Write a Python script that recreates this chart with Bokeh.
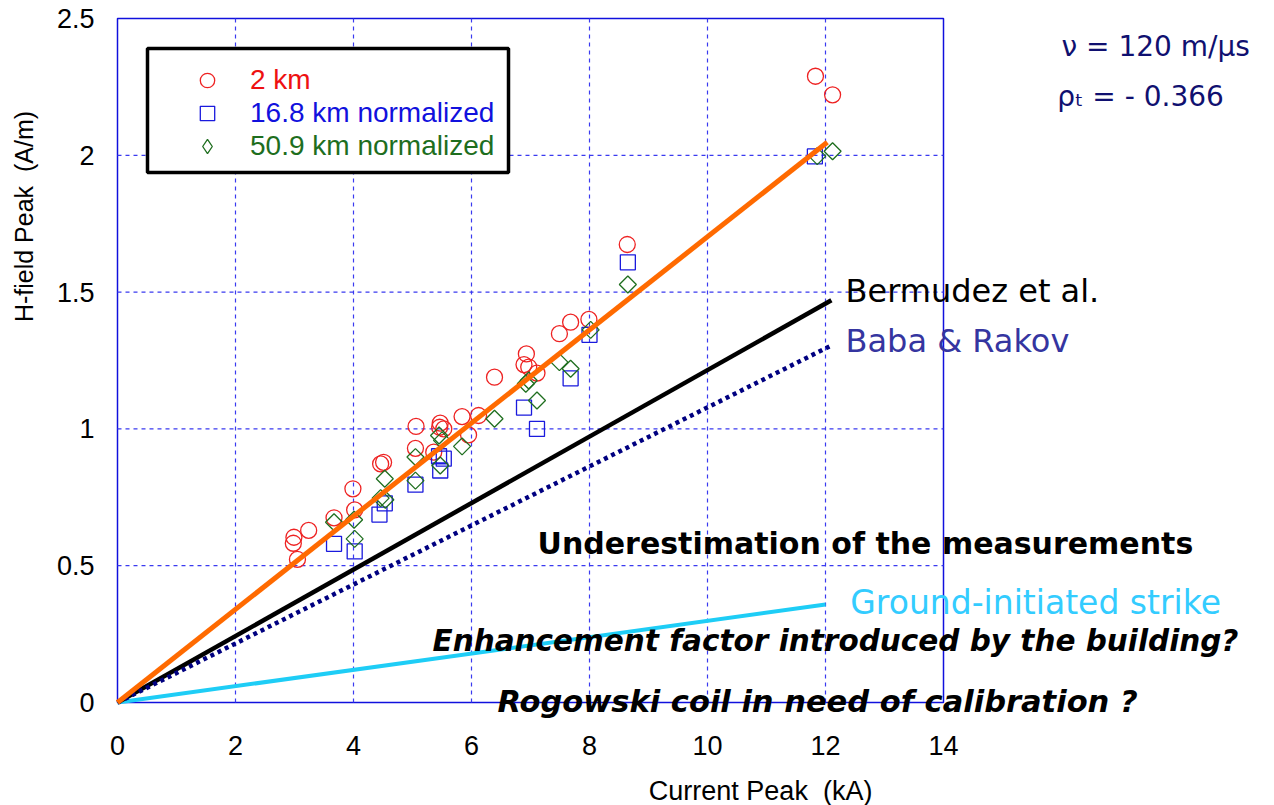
import numpy as np
from bokeh.plotting import figure
from bokeh.models import (Label, Legend, LegendItem, BoxAnnotation, FixedTicker,
                          Range1d, LinearAxis)
from bokeh.embed import file_html
from bokeh.resources import INLINE

# ---------------- data ----------------
red_x = [2.99, 2.98, 3.05, 3.24, 3.67, 3.99, 4.02, 4.46, 4.51, 5.06, 5.05, 5.47,
         5.46, 5.53, 5.36, 5.84, 6.12, 5.95, 6.39, 6.89, 6.93, 6.97, 7.11, 7.49,
         7.68, 7.99, 8.64, 11.83, 12.12]
red_y = [0.604, 0.582, 0.523, 0.629, 0.675, 0.781, 0.704, 0.872, 0.878, 1.009,
         0.929, 1.021, 1.006, 1.000, 0.915, 1.045, 1.049, 0.978, 1.189, 1.235,
         1.274, 1.226, 1.204, 1.348, 1.390, 1.400, 1.674, 2.289, 2.221]

blue_x = [3.67, 4.02, 4.44, 4.53, 5.05, 5.47, 5.45, 5.53, 6.89, 7.11, 7.68, 8.00,
          8.65, 11.82]
blue_y = [0.580, 0.552, 0.687, 0.728, 0.796, 0.848, 0.900, 0.891, 1.078, 1.000,
          1.185, 1.344, 1.609, 1.996]

green_x = [3.67, 4.01, 4.02, 4.53, 4.46, 4.54, 5.05, 5.05, 5.47, 5.45, 5.50, 5.84,
           6.39, 6.92, 6.97, 7.11, 7.49, 7.68, 8.02, 8.65, 11.86, 12.12]
green_y = [0.659, 0.668, 0.598, 0.818, 0.747, 0.741, 0.811, 0.897, 0.866, 0.976,
           0.958, 0.936, 1.037, 1.165, 1.177, 1.104, 1.244, 1.220, 1.362, 1.528,
           1.997, 2.015]

fit_x = [0, 12.03]
fit_y = [0, 2.048]
bermudez_x = [0, 12.1]
bermudez_y = [0, 1.47]
baba_x = [0, 12.1]
baba_y = [0, 1.305]
ground_x = [0, 12.0]
ground_y = [0, 0.358]

x_ticks = [0, 2, 4, 6, 8, 10, 12, 14]
y_ticks = [0, 0.5, 1, 1.5, 2, 2.5]
X_MAX = 14
Y_MAX = 2.5

# ---------------- figure ----------------
# the frame spans the whole canvas so that annotation texts outside the
# data box (as in the reference) are not clipped
W, H = 1274, 805
x0_px, y0_px = 117, 702            # where data (0, 0) sits on the canvas
sx = 59.0                          # px per kA
sy = 273.6                         # px per A/m
x_range = Range1d(-x0_px / sx, (W - x0_px) / sx)
y_range = Range1d(-(H - y0_px) / sy, y0_px / sy)

p = figure(width=W, height=H, x_range=x_range, y_range=y_range,
           output_backend="svg", toolbar_location=None,
           x_axis_location=None, y_axis_location=None,
           min_border=0, min_border_left=0, min_border_right=0,
           min_border_top=0, min_border_bottom=0)
p.outline_line_color = None
p.center = []
p.background_fill_color = "white"
p.border_fill_color = "white"

xaxis = LinearAxis(fixed_location=0, bounds=(0, X_MAX),
                   ticker=FixedTicker(ticks=x_ticks))
yaxis = LinearAxis(fixed_location=0, bounds=(0, Y_MAX),
                   ticker=FixedTicker(ticks=y_ticks))
for ax in (xaxis, yaxis):
    ax.axis_line_color = None
    ax.major_tick_line_color = None
    ax.minor_tick_line_color = None
    ax.major_label_text_font = "Liberation Sans"
    ax.major_label_text_font_size = "27px"
    ax.major_label_text_color = "black"
xaxis.major_label_standoff = 27
yaxis.major_label_standoff = 17
yaxis.major_label_overrides = {0: "0", 0.5: "0.5", 1: "1", 1.5: "1.5", 2: "2", 2.5: "2.5"}
p.add_layout(xaxis, "below")
p.add_layout(yaxis, "left")

# grid lines (dashed blue), limited to the data box
gx = [t for t in x_ticks if 0 < t < X_MAX]
gy = [t for t in y_ticks if 0 < t < Y_MAX]
p.segment(x0=gx, y0=[0] * len(gx), x1=gx, y1=[Y_MAX] * len(gx),
          line_color="#3a3af0", line_dash="4 4", line_width=1.2)
p.segment(x0=[0] * len(gy), y0=gy, x1=[X_MAX] * len(gy), y1=gy,
          line_color="#3a3af0", line_dash="4 4", line_width=1.2)

# data box outline
p.add_layout(BoxAnnotation(left=0, right=X_MAX, bottom=0, top=Y_MAX,
                           fill_alpha=0, line_color="#1010dd", line_alpha=1,
                           line_width=1.5, level="underlay"))

# lines
p.line(ground_x, ground_y, line_color="#1ecdf6", line_width=4)
p.line(bermudez_x, bermudez_y, line_color="black", line_width=4.5)
p.line(baba_x, baba_y, line_color="#000080", line_width=4.5, line_dash="4 4")

# scatter
r_red = p.scatter(red_x, red_y, marker="circle", size=16, fill_color=None,
                  line_color="#ee2222", line_width=1.3)
r_blue = p.scatter(blue_x, blue_y, marker="square", size=15, fill_color=None,
                   line_color="#1a1add", line_width=1.3)
r_green = p.scatter(green_x, green_y, marker="square", angle=np.pi / 4, size=12,
                    fill_color=None, line_color="#1e6e1e", line_width=1.3)
# legend glyph for the diamonds (legend glyphs are never rotated), not drawn itself
r_green_leg = p.scatter(green_x, green_y, marker="diamond", size=16, fill_color=None,
                        line_color="#1e6e1e", line_width=1.3, visible=False)

p.line(fit_x, fit_y, line_color="#ff6a00", line_width=5)

# legend box
p.add_layout(BoxAnnotation(left=(147 - x0_px) / sx, right=(508 - x0_px) / sx,
                           top=(y0_px - 48) / sy, bottom=(y0_px - 172) / sy,
                           fill_color="white", fill_alpha=1.0,
                           line_color="black", line_alpha=1, line_width=3.5,
                           level="overlay"))

leg_specs = [("2 km", r_red, "#ee1111", 80),
             ("16.8 km normalized", r_blue, "#1111dd", 113),
             ("50.9 km normalized", r_green_leg, "#1e6e1e", 146)]
GH = 36
for lab_txt, rend, col, cy in leg_specs:
    lg = Legend(items=[LegendItem(label=lab_txt, renderers=[rend])],
                location=(207 - GH // 2, H - (cy + GH // 2)),
                border_line_color=None,
                background_fill_alpha=0, padding=0, margin=0,
                glyph_width=GH, glyph_height=GH, label_standoff=25,
                label_text_font="Liberation Sans", label_text_font_size="28px",
                label_text_color=col, label_height=GH, spacing=0,
                inactive_fill_alpha=0)
    p.add_layout(lg)

# annotations
def lab(x, y, text, size, color="black", style="normal", font="DejaVu Sans",
        align="left", angle=0):
    p.add_layout(Label(x=x, y=y, text=text, text_font=font,
                       text_font_size=size, text_color=color,
                       text_font_style=style, text_align=align,
                       text_baseline="middle", angle=angle))

lab(12.34, 1.505, "Bermudez et al.", "32px")
lab(12.34, 1.32, "Baba & Rakov", "32px", color="#3535a0")
lab(7.12, 0.581, "Underestimation of the measurements", "30px", style="bold")
lab(12.42, 0.365, "Ground-initiated strike", "33px", color="#33ccff")
lab(5.34, 0.223, "Enhancement factor introduced by the building?", "29.5px",
    style="bold italic")
lab(6.44, 0.004, "Rogowski coil in need of calibration ?", "30.5px",
    style="bold italic")
lab(16.0, 2.398, "\u03bd = 120 m/\u03bcs", "28px", color="#101070")
lab(15.93, 2.215, "\u03c1\u209c = - 0.366", "28px", color="#101070")

lab(10.9, -(790 - y0_px) / sy, "Current Peak\u00a0\u00a0(kA)", "27px",
    font="Liberation Sans", align="center")
lab(-(x0_px - 23) / sx, (y0_px - 216) / sy, "H-field Peak\u00a0\u00a0(A/m)", "25px",
    font="Liberation Sans", align="center", angle=np.pi / 2)

open("out.html", "w").write(file_html(p, INLINE))
